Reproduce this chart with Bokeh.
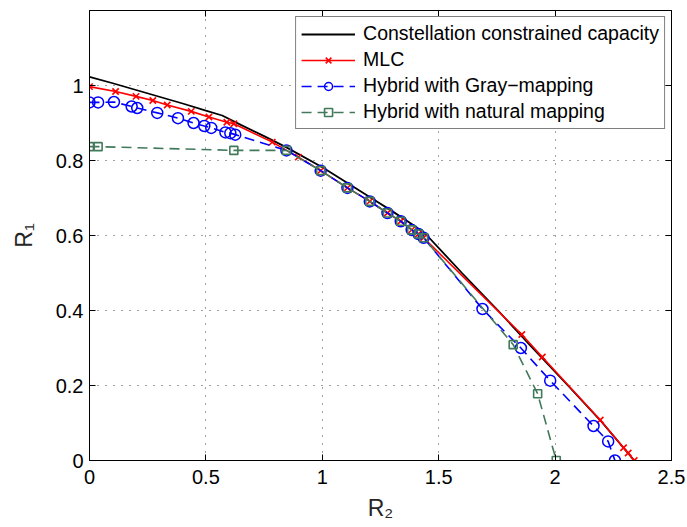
from bokeh.plotting import figure
from bokeh.models import (Range1d, FixedTicker, LinearAxis, Legend,
                          LegendItem, CustomJSTickFormatter)
from bokeh.embed import file_html
from bokeh.resources import INLINE

# Rate region boundaries: R2 (x) versus R1 (y)
cap_r2 = [0.0, 0.1, 0.2, 0.3, 0.4, 0.5, 0.57, 0.65, 0.75, 0.846, 1.0, 1.108, 1.2,
          1.3, 1.4, 1.45, 1.6, 1.755, 1.9, 2.055, 2.2, 2.34]
cap_r1 = [1.023, 1.006, 0.988, 0.97, 0.952, 0.933, 0.92, 0.895, 0.865, 0.835, 0.782,
          0.74, 0.704, 0.665, 0.624, 0.6, 0.5, 0.4, 0.302, 0.2, 0.103, 0.0]

mlc_r2 = [0.0, 0.112, 0.2, 0.272, 0.334, 0.437, 0.513, 0.59, 0.62, 0.785, 0.897,
          0.993, 1.108, 1.204, 1.28, 1.337, 1.384, 1.413, 1.435, 1.857, 1.945,
          2.194, 2.294, 2.314, 2.34]
mlc_r1 = [0.997, 0.984, 0.971, 0.96, 0.948, 0.931, 0.916, 0.902, 0.898, 0.849, 0.809,
          0.773, 0.727, 0.691, 0.66, 0.638, 0.615, 0.604, 0.594, 0.336, 0.276,
          0.108, 0.034, 0.02, 0.0]

gray_r2 = [0.0, 0.037, 0.105, 0.181, 0.205, 0.291, 0.38, 0.447, 0.493, 0.523, 0.584,
           0.605, 0.626, 0.846, 0.993, 1.108, 1.204, 1.28, 1.337, 1.384, 1.413,
           1.435, 1.688, 1.853, 1.979, 2.165, 2.228, 2.257]
gray_r1 = [0.955, 0.955, 0.956, 0.944, 0.94, 0.927, 0.913, 0.9, 0.892, 0.887, 0.875,
           0.873, 0.869, 0.827, 0.773, 0.727, 0.691, 0.66, 0.638, 0.615, 0.604,
           0.594, 0.404, 0.30, 0.213, 0.092, 0.051, 0.0]

nat_r2 = [0.0, 0.037, 0.62, 0.846, 0.993, 1.108, 1.204, 1.28, 1.337, 1.384, 1.413,
          1.435, 1.82, 1.925, 2.005]
nat_r1 = [0.837, 0.837, 0.827, 0.827, 0.773, 0.727, 0.691, 0.66, 0.638, 0.615, 0.604,
          0.594, 0.309, 0.178, 0.0]

x_ticks = [0, 0.5, 1, 1.5, 2, 2.5]
y_ticks = [0, 0.2, 0.4, 0.6, 0.8, 1.0]

labels = ["Constellation constrained capacity", "MLC",
          "Hybrid with Gray\u2212mapping", "Hybrid with natural mapping"]
x_title = "R\u2082"
y_title = "R\u2081"

FONT = "Liberation Sans"
GREEN = "#407a5a"

p = figure(width=687, height=527, output_backend="svg", toolbar_location=None,
           x_range=Range1d(0, 2.5), y_range=Range1d(0, 1.2),
           min_border_left=89, min_border_right=16, min_border_top=10,
           min_border_bottom=67)
p.background_fill_color = "white"
p.border_fill_color = "white"
p.outline_line_color = "black"
p.outline_line_width = 1

fmt = CustomJSTickFormatter(code="return String(Math.round(tick * 10) / 10);")
for ax, ticks in ((p.xaxis, x_ticks), (p.yaxis, y_ticks)):
    ax.ticker = FixedTicker(ticks=ticks)
    ax.formatter = fmt
    ax.major_tick_in = 6
    ax.major_tick_out = 0
    ax.minor_tick_line_color = None
    ax.axis_line_color = "black"
    ax.major_tick_line_color = "black"
    ax.major_label_text_font = FONT
    ax.major_label_text_font_size = "20px"
    ax.major_label_text_color = "black"
    ax.axis_label_text_font = FONT
    ax.axis_label_text_font_size = "23px"
    ax.axis_label_text_font_style = "normal"
    ax.axis_label_text_color = "#262626"
p.xaxis.major_label_standoff = 9
p.yaxis.major_label_standoff = 6
p.xaxis.axis_label = x_title
p.yaxis.axis_label = y_title
p.xaxis.axis_label_standoff = 8
p.yaxis.axis_label_standoff = 16

# mirrored tick marks on the top and right edges, without labels
blank = CustomJSTickFormatter(code="return '';")
for loc, ticks in (("above", x_ticks), ("right", y_ticks)):
    ax = LinearAxis(ticker=FixedTicker(ticks=ticks), formatter=blank,
                    major_tick_in=6, major_tick_out=0,
                    minor_tick_line_color=None, major_label_standoff=0,
                    axis_line_color="black", major_tick_line_color="black")
    p.add_layout(ax, loc)

for g, ticks in ((p.xgrid, x_ticks), (p.ygrid, y_ticks)):
    g.ticker = FixedTicker(ticks=ticks)
    g.grid_line_color = "#444444"
    g.grid_line_dash = "1 7"
    g.grid_line_width = 1

r_cap = p.line(cap_r2, cap_r1, line_color="black", line_width=1.8)

r_mlc_l = p.line(mlc_r2, mlc_r1, line_color="red", line_width=1.6)
r_mlc_m = p.scatter(mlc_r2, mlc_r1, marker="x", size=9, line_color="red",
                    line_width=1.6)

r_gray_l = p.line(gray_r2, gray_r1, line_color="blue", line_width=1.6,
                  line_dash="10 6")
r_gray_m = p.scatter(gray_r2, gray_r1, marker="circle", size=11,
                     line_color="blue", fill_color=None, line_width=1.5)

r_nat_l = p.line(nat_r2, nat_r1, line_color=GREEN, line_width=1.6,
                 line_dash="10 6")
r_nat_m = p.scatter(nat_r2, nat_r1, marker="square", size=8,
                    line_color=GREEN, fill_color=None, line_width=1.6)

legend = Legend(items=[
    LegendItem(label=labels[0], renderers=[r_cap]),
    LegendItem(label=labels[1], renderers=[r_mlc_l, r_mlc_m]),
    LegendItem(label=labels[2], renderers=[r_gray_l, r_gray_m]),
    LegendItem(label=labels[3], renderers=[r_nat_l, r_nat_m]),
], location="top_right")
legend.margin = 6
legend.padding = 5
legend.spacing = 3
legend.glyph_width = 54
legend.glyph_height = 20
legend.label_height = 20
legend.label_standoff = 8
legend.label_text_font = FONT
legend.label_text_font_size = "19.5px"
legend.label_text_color = "black"
legend.border_line_color = "black"
legend.border_line_width = 1
legend.background_fill_color = "white"
legend.background_fill_alpha = 1
p.add_layout(legend)

open("out.html", "w").write(file_html(p, INLINE))
